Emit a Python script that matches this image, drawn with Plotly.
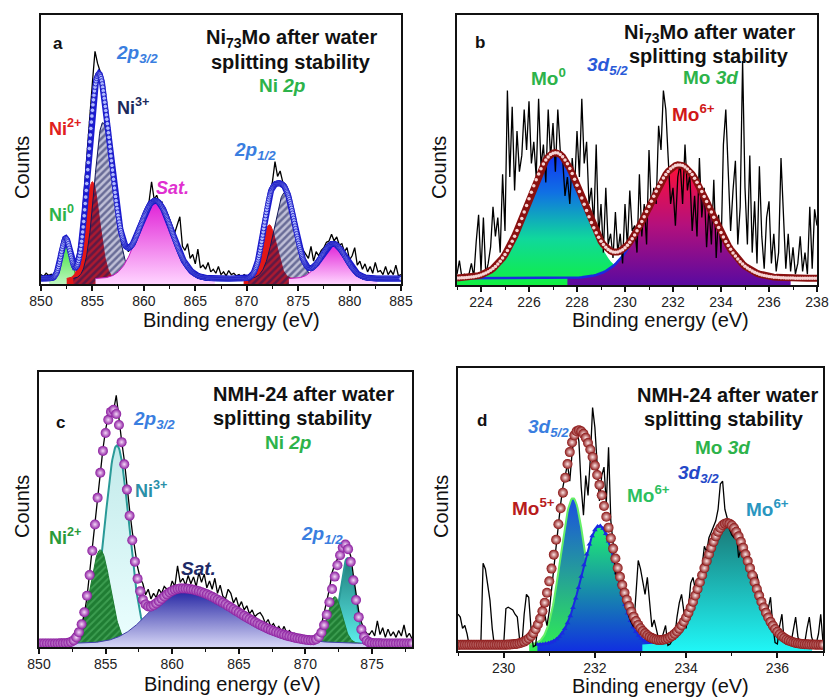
import numpy as np
import plotly.graph_objects as go

W, H = 830, 697
FONT = "Arial, Liberation Sans, sans-serif"

# ---------------- DATA (intensities in % of plot height) ----------------
# Panel a : Ni73Mo, Ni 2p
A_RAW_START, A_RAW_STEP = 850.0, 0.25
A_RAW = [3.5, 2.8, 4.0, 3.2, 3.6, 3.0, 4.5, 7.0, 12.0, 16.5,
         16.0, 13.0, 9.5, 8.5, 10.0, 15.5, 24.0, 37.0, 50.5, 64.0,
         75.0, 86.5, 82.0, 79.0, 73.0, 66.0, 58.5, 50.0, 42.0, 34.0,
         27.0, 21.0, 16.0, 14.5, 12.0, 15.0, 14.5, 18.5, 20.5, 22.0,
         26.0, 27.0, 30.5, 38.0, 31.5, 33.0, 30.0, 30.5, 27.0, 26.5,
         24.0, 21.5, 19.0, 22.0, 25.0, 14.0, 12.5, 15.0, 9.5, 11.0,
         7.5, 13.0, 6.0, 7.0, 5.5, 8.0, 4.5, 5.5, 4.0, 6.5,
         3.5, 4.5, 3.0, 5.0, 3.5, 4.0, 3.0, 3.5, 2.5, 3.5,
         2.8, 3.5, 4.0, 6.0, 8.0, 12.0, 18.0, 24.0, 30.0, 34.0,
         38.0, 45.5, 40.0, 42.0, 38.0, 37.0, 35.0, 31.0, 27.5, 24.0,
         18.0, 15.0, 12.5, 11.0, 9.5, 14.0, 8.5, 12.0, 10.5, 12.5,
         13.5, 15.5, 16.0, 18.5, 16.0, 17.5, 14.5, 15.0, 12.0, 13.5,
         9.0, 10.5, 13.5, 7.0, 8.5, 5.5, 7.5, 4.5, 6.5, 4.0,
         8.0, 4.5, 5.0, 3.5, 6.5, 3.5, 5.0, 3.5, 7.0, 3.0,
         3.5]
A_BASE = 2.0
# fitted components: [centre eV, height %, sigma eV (, sigma right)]
A_NI0 = [852.4, 15, 0.45]
A_NI2 = [855.0, 36, 0.70]
A_NI3 = [856.0, 58, 0.80, 1.05]
A_SAT1 = [861.1, 29, 1.62]
A_NI2B = [872.2, 20, 0.70]
A_NI3B = [873.7, 32, 1.00]
A_SAT2 = [878.4, 13, 1.20]

# Panel b : Ni73Mo, Mo 3d
B_RAW_START, B_RAW_STEP = 223.0, 0.1
B_RAW = [4, 9, 3, 4, 3, 4, 8, 3, 16, 26,
         5, 25, 4, 8, 14, 29, 18, 25, 12, 41,
         20, 72, 40, 66, 35, 57, 42, 48, 65, 50,
         68, 45, 53, 40, 69, 44, 52, 38, 65, 47,
         60, 42, 65, 50, 47, 33, 40, 30, 47, 36,
         57, 40, 69, 45, 53, 30, 36, 22, 52, 18,
         30, 12, 36, 15, 19, 10, 27, 12, 19, 8,
         30, 14, 35, 20, 22, 12, 41, 18, 30, 15,
         50, 28, 36, 30, 59, 50, 72, 65, 47, 30,
         36, 22, 40, 45, 30, 52, 35, 41, 20, 33,
         18, 47, 25, 36, 14, 29, 15, 39, 10, 26,
         12, 52, 65, 43, 20, 35, 46, 15, 29, 83,
         36, 15, 48, 12, 31, 8, 44, 18, 6, 25,
         31, 8, 19, 5, 12, 47, 29, 6, 19, 5,
         14, 4, 8, 18, 5, 12, 4, 29, 6, 28,
         22]
B_BASE = 2.5
B_MO0 = [227.1, 46.5, 1.15]
B_MO6 = [232.25, 42.0, 1.30]

# Panel c : NMH-24, Ni 2p
C_RAW_START, C_RAW_STEP = 850.0, 0.2
C_RAW = [2.0, 1.5, 2.5, 1.8, 2.2, 1.6, 2.4, 1.9, 2.6, 2.0,
         2.2, 3.0, 2.5, 4.5, 6.5, 6.0, 8.0, 12.0, 18.0, 27.0,
         36.0, 46.0, 55.0, 64.0, 72.0, 79.0, 84.0, 87.0, 86.0, 91.5,
         82.0, 75.0, 68.0, 58.0, 50.0, 42.0, 35.0, 29.0, 25.0, 23.0,
         19.0, 21.0, 17.5, 19.5, 18.0, 21.0, 19.5, 22.0, 21.0, 20.5,
         24.0, 22.0, 29.5, 23.5, 25.0, 22.5, 26.0, 23.0, 25.5, 22.0,
         27.0, 23.5, 26.5, 21.5, 24.0, 21.0, 25.0, 19.5, 22.5, 18.5,
         17.5, 21.0, 19.5, 16.0, 18.0, 14.5, 16.5, 13.5, 15.0, 12.0,
         13.5, 11.0, 12.0, 12.5, 11.0, 8.5, 10.0, 7.5, 8.5, 6.5,
         7.5, 5.5, 7.5, 5.0, 6.0, 4.5, 5.0, 4.0, 4.5, 3.5,
         4.0, 3.0, 3.5, 3.2, 4.0, 5.5, 8.0, 12.0, 17.0, 21.0,
         27.0, 30.0, 32.0, 34.5, 36.0, 37.0, 36.0, 33.0, 26.0, 19.0,
         13.0, 9.0, 6.5, 5.0, 4.5, 6.0, 4.0, 9.5, 4.5, 7.0,
         3.5, 6.5, 4.0, 5.5, 3.5, 6.0, 4.0, 8.0, 3.5, 5.0,
         3.0]
C_BASE = 1.3
C_NI2 = [854.6, 34, 0.75]
C_NI3 = [855.85, 72, 0.90]
C_SAT = [860.7, 20, 2.3, 4.0]        # asymmetric: sigma left, sigma right
C_NI2B = [872.2, 17, 0.55]
C_NI3B = [873.15, 31, 0.55]

# Panel d : NMH-24, Mo 3d
D_RAW_START, D_RAW_STEP = 229.0, 0.05
D_RAW = [13, 12, 8, 9, 6, 1.5, 1.5, 1.5, 1.5, 1.5,
         2, 31, 29, 24, 18, 8, 1.5, 1.5, 1.5, 1.5,
         2, 15, 15.5, 15, 14.5, 13, 12, 4, 2, 13,
         20, 19, 8, 1.5, 2, 8.5, 12, 17, 13.5, 9,
         14, 22, 30, 38, 45, 52, 58, 62, 66, 60,
         70, 76, 79, 74, 58, 48, 62, 55, 68, 86,
         79, 66, 53, 62, 65, 52, 72, 46, 38, 27,
         31, 28, 22, 19, 15, 12, 10, 8.5, 20, 32,
         29, 24, 20, 26, 17, 8.5, 11, 7, 4, 3.5,
         6, 9, 2, 2.5, 4, 5, 12, 17, 20, 13,
         8, 15, 24, 26, 22, 20, 27, 30, 37, 35,
         40, 42, 44, 46, 50, 59, 60, 50, 47, 43,
         41, 40, 42, 33, 36, 40, 35, 31, 33, 29,
         27, 27, 23, 21, 17, 13, 15, 19, 9, 3,
         2.5, 9, 13, 3, 2.5, 2.5, 3, 7, 12, 5,
         2.5, 2.5, 3, 8, 12, 5, 2.5, 2.5, 6, 13,
         3]
D_BASE = 2.2
D_MO5 = [231.52, 51.8, 0.27]
D_MO6 = [232.10, 42.0, 0.38]
D_MO6B = [234.90, 43.0, 0.52]
D_ENV1 = [231.64, 75.8, 0.41, 0.60]  # fitted envelope of the 3d5/2 doublet

# ---------------- helpers ----------------
def peak(x, p):
    c, h, sl = p[0], p[1], p[2]
    sr = p[3] if len(p) > 3 else sl
    s = np.where(x < c, sl, sr)
    return h * np.exp(-(x - c) ** 2 / (2 * s ** 2))


def comp_xy(grid, base, p, k=3.6):
    sl = p[2]
    sr = p[3] if len(p) > 3 else sl
    m = (grid > p[0] - k * sl) & (grid < p[0] + k * sr)
    x = grid[m]
    return x, base + peak(x, p)


def raw_x(start, step, vals):
    return np.round(start + step * np.arange(len(vals)), 3)


fig = go.Figure()

AX = {"a": ("x", "y"), "b": ("x2", "y2"), "c": ("x3", "y3"), "d": ("x4", "y4")}


def fill_trace(panel, x, y, cs, line_color=None, lw=0):
    xa, ya = AX[panel]
    return go.Scatter(x=x, y=y, mode="lines", xaxis=xa, yaxis=ya, fill="tozeroy",
                      fillgradient=dict(type="vertical", colorscale=cs),
                      line=dict(color=line_color or cs[-1][1], width=lw), hoverinfo="skip")


def hatch_trace(panel, x, y, fg, bg, line_color, lw=1, sol=0.35):
    xa, ya = AX[panel]
    return go.Scatter(x=x, y=y, mode="lines", xaxis=xa, yaxis=ya, fill="tozeroy",
                      fillcolor=bg,
                      fillpattern=dict(shape="/", fgcolor=fg, bgcolor=bg, size=5, solidity=sol),
                      line=dict(color=line_color, width=lw), hoverinfo="skip")


def solid_trace(panel, x, y, color, lw=1):
    xa, ya = AX[panel]
    return go.Scatter(x=x, y=y, mode="lines", xaxis=xa, yaxis=ya, fill="tozeroy",
                      fillcolor=color, line=dict(color=color, width=lw), hoverinfo="skip")


def raw_trace(panel, start, step, vals):
    xa, ya = AX[panel]
    return go.Scatter(x=raw_x(start, step, vals), y=vals, mode="lines", xaxis=xa, yaxis=ya,
                      line=dict(color="#000000", width=1.3), hoverinfo="skip")


# ---------------- panel a ----------------
ga = np.round(np.arange(850.0, 885.0001, 0.05), 3)
x, y = comp_xy(ga, A_BASE, A_NI0)
fig.add_trace(fill_trace("a", x, y, [[0, "#bff6bf"], [1, "#28de28"]], "#22c022", 1))
for p in (A_NI2, A_NI2B):
    x, y = comp_xy(ga, A_BASE, p)
    fig.add_trace(solid_trace("a", x, y, "#e21818"))
for p in (A_NI3, A_NI3B):
    x, y = comp_xy(ga, A_BASE, p)
    fig.add_trace(hatch_trace("a", x, y, "#121858", "rgba(30,30,110,0.28)", "#121858", sol=0.5))
for p in (A_SAT1, A_SAT2):
    x, y = comp_xy(ga, A_BASE, p)
    fig.add_trace(fill_trace("a", x, y, [[0, "#ffd4ff"], [1, "#e01ed6"]], "#c818c0", 1))
fig.add_trace(raw_trace("a", A_RAW_START, A_RAW_STEP, A_RAW))
env_a = A_BASE + sum(peak(ga, p) for p in (A_NI0, A_NI2, A_NI3, A_SAT1, A_NI2B, A_NI3B, A_SAT2))
fig.add_trace(go.Scatter(x=ga, y=env_a, mode="lines", xaxis="x", yaxis="y",
                         line=dict(color="#1a1ad2", width=6), hoverinfo="skip"))
fig.add_trace(go.Scatter(x=ga, y=env_a, mode="markers", xaxis="x", yaxis="y",
                         marker=dict(size=4.5, color="#aeb8ff", line=dict(color="#1414c0", width=0.8)),
                         hoverinfo="skip"))

# ---------------- panel b ----------------
gb = np.round(np.arange(223.0, 238.0001, 0.1), 3)
x, y = comp_xy(gb, B_BASE, B_MO0)
fig.add_trace(fill_trace("b", x, y, [[0, "#10f040"], [0.35, "#10d89c"], [0.7, "#1070e4"],
                                     [1, "#1030f2"]]))
x, y = comp_xy(gb, B_BASE, B_MO6)
fig.add_trace(fill_trace("b", x, y, [[0, "#5a0aa0"], [0.5, "#b4107c"], [1, "#ff1038"]]))
fig.add_trace(go.Scatter(x=gb, y=B_BASE + peak(gb, B_MO6), mode="lines", xaxis="x2", yaxis="y2",
                         line=dict(color="#1a2ae0", width=2.5), hoverinfo="skip"))
fig.add_trace(raw_trace("b", B_RAW_START, B_RAW_STEP, B_RAW))
env_b = B_BASE + peak(gb, B_MO0) + peak(gb, B_MO6)
fig.add_trace(go.Scatter(x=gb, y=env_b, mode="lines+markers", xaxis="x2", yaxis="y2",
                         line=dict(color="#8a1010", width=7),
                         marker=dict(size=3.5, color="#f6d4d4"), hoverinfo="skip"))

# ---------------- panel c ----------------
gc = np.round(np.arange(850.0, 878.0001, 0.05), 3)
x, y = comp_xy(gc, C_BASE, C_NI3)
fig.add_trace(fill_trace("c", x, y, [[0, "#ecffff"], [1, "#c2eaea"]], "#2a9a98", 2))
x, y = comp_xy(gc, C_BASE, C_NI2)
fig.add_trace(hatch_trace("c", x, y, "#5cc070", "#1f7d33", "#1f7d33"))
x, y = comp_xy(gc, C_BASE, C_NI3B)
fig.add_trace(fill_trace("c", x, y, [[0, "#5ef2ee"], [1, "#1f7c7a"]], "#2a9a98", 2))
x, y = comp_xy(gc, C_BASE, C_NI2B)
fig.add_trace(hatch_trace("c", x, y, "#5cc070", "#1f7d33", "#1f7d33"))
x, y = comp_xy(gc, C_BASE, C_SAT)
fig.add_trace(fill_trace("c", x, y, [[0, "#d6d6f6"], [1, "#1e1ea0"]], "#4040a8", 1))
fig.add_trace(raw_trace("c", C_RAW_START, C_RAW_STEP, C_RAW))
gc_m = np.round(np.arange(850.0, 878.0001, 0.2), 3)
env_c = C_BASE + sum(peak(gc_m, p) for p in (C_NI2, C_NI3, C_SAT, C_NI2B, C_NI3B))
fig.add_trace(go.Scatter(x=gc_m, y=env_c, mode="markers", xaxis="x3", yaxis="y3",
                         marker=dict(size=10, color="#8a1a9e",
                                     gradient=dict(type="radial", color="#f4d8f8"),
                                     line=dict(width=0)), hoverinfo="skip"))

# ---------------- panel d ----------------
gd = np.round(np.arange(229.0, 237.0001, 0.02), 3)
xs = gd[(gd > 230.6) & (gd < 236.5)]
fig.add_trace(go.Scatter(x=xs, y=np.full(len(xs), D_BASE), mode="lines", xaxis="x4", yaxis="y4",
                         fill="tozeroy", fillcolor="#1a2ae0", line=dict(color="#1a2ae0", width=1),
                         hoverinfo="skip"))
x, y = comp_xy(gd, D_BASE, D_MO5)
fig.add_trace(fill_trace("d", x, y, [[0, "#30f050"], [1, "#1a4fe0"]], "#66f066", 2))
x, y = comp_xy(gd, D_BASE, D_MO6)
fig.add_trace(fill_trace("d", x, y, [[0, "#1030e0"], [1, "#20f070"]], "#1a2ae0", 2))
fig.add_trace(go.Scatter(x=x[::3], y=y[::3], mode="markers", xaxis="x4", yaxis="y4",
                         marker=dict(symbol="triangle-up", size=5, color="#1a2ae0"), hoverinfo="skip"))
x, y = comp_xy(gd, D_BASE, D_MO6B)
fig.add_trace(fill_trace("d", x, y, [[0, "#20f6f6"], [1, "#1a7876"]]))
fig.add_trace(raw_trace("d", D_RAW_START, D_RAW_STEP, D_RAW))
gd_m = np.round(np.arange(229.0, 237.0001, 0.05), 3)
env_d = D_BASE + peak(gd_m, D_ENV1) + peak(gd_m, D_MO6B)
fig.add_trace(go.Scatter(x=gd_m, y=env_d, mode="markers", xaxis="x4", yaxis="y4",
                         marker=dict(size=10, color="#8a1212",
                                     gradient=dict(type="radial", color="#fbe4e4"),
                                     line=dict(width=0)), hoverinfo="skip"))


# ---------------- axes ----------------
def xax(x0, x1, rng, tick0, dtick, mdt, anchor):
    return dict(domain=[x0 / W, x1 / W], range=rng, anchor=anchor, showline=True,
                linecolor="#111", linewidth=2, mirror=True, ticks="outside", ticklen=5,
                tickwidth=1.5, tickcolor="#111", tick0=tick0, dtick=dtick,
                minor=dict(ticks="outside", ticklen=3, tickwidth=1.2, tickcolor="#111",
                           tick0=tick0, dtick=mdt),
                tickfont=dict(size=14, color="#222", family=FONT), ticklabelstandoff=-2,
                automargin=False, showgrid=False, zeroline=False)


def yax(y0, y1, anchor):
    return dict(domain=[1 - y1 / H, 1 - y0 / H], range=[0, 100], anchor=anchor,
                showline=True, linecolor="#111", linewidth=2, mirror=True, automargin=False,
                showticklabels=False, ticks="", showgrid=False, zeroline=False)


layout = dict(width=W, height=H, margin=dict(l=0, r=0, t=0, b=0, pad=0, autoexpand=False),
              paper_bgcolor="white", plot_bgcolor="white", showlegend=False,
              xaxis=xax(41, 401, [850, 885], 850, 5, 2.5, "y"),
              yaxis=yax(15, 284, "x"),
              xaxis2=xax(457, 817, [223, 238], 224, 2, 1, "y2"),
              yaxis2=yax(15, 285, "x2"),
              xaxis3=xax(39, 412, [850, 878], 850, 5, 2.5, "y3"),
              yaxis3=yax(372, 647, "x3"),
              xaxis4=xax(458, 823, [229, 237], 230, 2, 1, "y4"),
              yaxis4=yax(368, 651, "x4"))


# ---------------- text ----------------
def ann(text, px, py, size, color="#111", bold=True, angle=0):
    return dict(text=f"<b>{text}</b>" if bold else text, x=px / W, y=1 - py / H,
                xref="paper", yref="paper", showarrow=False, textangle=angle,
                font=dict(size=size, color=color, family=FONT),
                xanchor="center", yanchor="middle")


GREEN = "#2db34a"
BLUE = "#3a7ee0"
anns = [
    # a
    ann("a", 58, 44, 17), ann("Ni<sub>73</sub>Mo after water", 291, 39, 20),
    ann("splitting stability", 291, 62, 20), ann("Ni <i>2p</i>", 282, 85, 19, GREEN),
    ann("<i>2p<sub>3/2</sub></i>", 137, 54, 19, BLUE), ann("Ni<sup>3+</sup>", 133, 106, 18, "#1c2a5c"),
    ann("Ni<sup>2+</sup>", 65, 127, 18, "#e02020"), ann("Ni<sup>0</sup>", 61, 213, 18, GREEN),
    ann("<i>Sat.</i>", 172, 188, 18, "#e030d0"), ann("<i>2p<sub>1/2</sub></i>", 255, 151, 19, BLUE),
    # b
    ann("b", 480, 43, 17), ann("Ni<sub>73</sub>Mo after water", 709, 33, 20),
    ann("splitting stability", 709, 56, 20), ann("Mo<sup>0</sup>", 548, 77, 19, GREEN),
    ann("<i>3d<sub>5/2</sub></i>", 607, 66, 19, "#2a5ad8"), ann("Mo <i>3d</i>", 710, 77, 19, GREEN),
    ann("Mo<sup>6+</sup>", 693, 113, 19, "#d01818"),
    # c
    ann("c", 60, 422, 17), ann("NMH-24 after water", 303, 394, 20),
    ann("splitting stability", 293, 418, 20), ann("Ni <i>2p</i>", 288, 442, 19, GREEN),
    ann("<i>2p<sub>3/2</sub></i>", 154, 420, 19, BLUE), ann("Ni<sup>3+</sup>", 151, 489, 18, "#2a8fa8"),
    ann("Ni<sup>2+</sup>", 65, 536, 18, "#2a9a3a"), ann("<i>Sat.</i>", 198, 568, 19, "#1e2a66"),
    ann("<i>2p<sub>1/2</sub></i>", 322, 535, 19, BLUE),
    # d
    ann("d", 482, 420, 17), ann("NMH-24 after water", 727, 395, 20),
    ann("splitting stability", 724, 419, 20), ann("Mo <i>3d</i>", 722, 447, 19, GREEN),
    ann("<i>3d<sub>5/2</sub></i>", 548, 428, 19, BLUE), ann("<i>3d<sub>3/2</sub></i>", 698, 474, 19, "#2448c8"),
    ann("Mo<sup>5+</sup>", 533, 507, 19, "#b81c1c"), ann("Mo<sup>6+</sup>", 648, 494, 19, "#2cc060"),
    ann("Mo<sup>6+</sup>", 767, 508, 19, "#2a96c0"),
    # axis titles
    ann("Binding energy (eV)", 231, 320, 20, bold=False), ann("Binding energy (eV)", 660, 320, 20, bold=False),
    ann("Binding energy (eV)", 232, 684, 20, bold=False), ann("Binding energy (eV)", 660, 686, 20, bold=False),
    ann("Counts", 22, 168, 20, bold=False, angle=-90), ann("Counts", 439, 168, 20, bold=False, angle=-90),
    ann("Counts", 22, 507, 20, bold=False, angle=-90), ann("Counts", 441, 507, 20, bold=False, angle=-90),
]
layout["annotations"] = anns
fig.update_layout(**layout)
fig.write_html("out.html", config={"displayModeBar": False},
               post_script="document.body.style.margin='0';")
